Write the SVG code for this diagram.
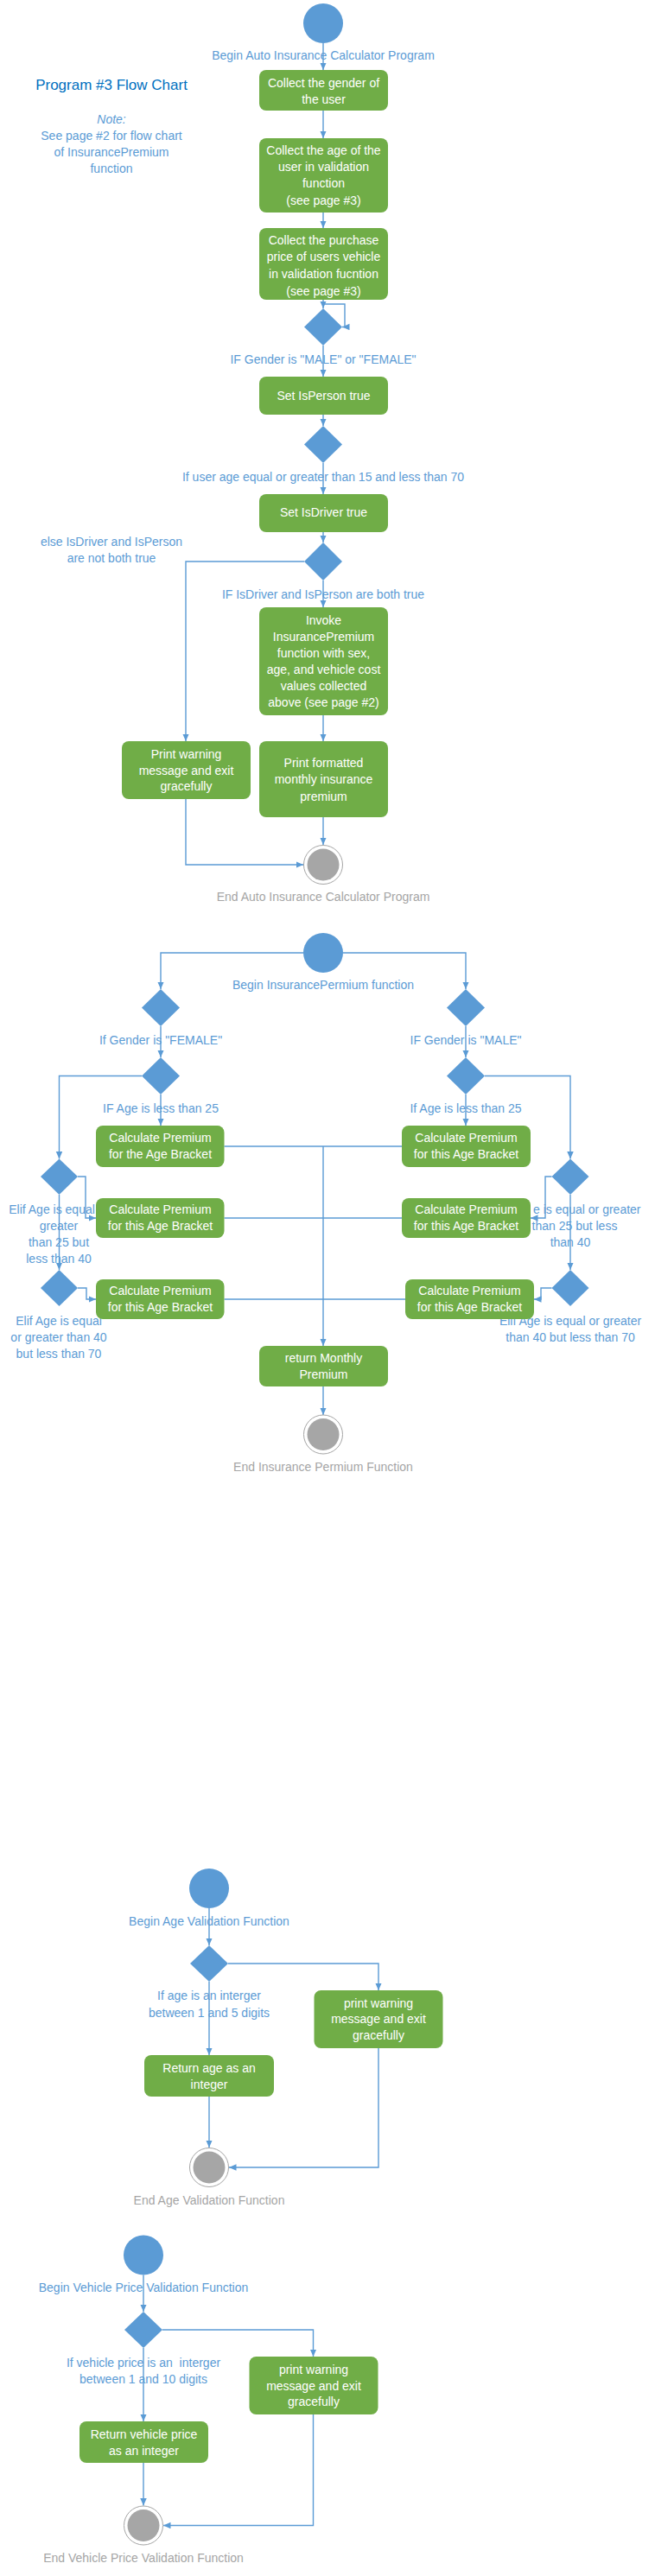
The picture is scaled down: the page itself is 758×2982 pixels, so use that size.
<svg xmlns="http://www.w3.org/2000/svg" width="758" height="2982" viewBox="0 0 758 2982">
<style>
text{font-family:"Liberation Sans",Arial,sans-serif;font-size:14px;text-anchor:middle}
.st{text-anchor:start}
.lbl{fill:#5B9BD5}
.end{fill:#A5A5A5}
.title{fill:#0070C0;font-size:17px}
.bx{fill:#70AD47}
.bt{fill:#FFFFFF}
.start{fill:#5B9BD5}
.dia{fill:#5B9BD5}
.ring{fill:#FFFFFF;stroke:#A5A5A5;stroke-width:1}
.core{fill:#A6A6A6}
.cn{fill:none;stroke:#5B9BD5;stroke-width:1.4}
.ar{marker-end:url(#ah)}
</style>
<defs>
<marker id="ah" markerUnits="userSpaceOnUse" markerWidth="9" markerHeight="8" refX="8.5" refY="3.75" orient="auto">
<path d="M0,0 L8.5,3.75 L0,7.5 z" fill="#5B9BD5"/>
</marker>
</defs>
<rect width="758" height="2982" fill="#FFFFFF"/>

<g id="connectors">
<!-- main program -->
<path class="cn ar" d="M374,50 V81"/>
<path class="cn ar" d="M374,128 V160"/>
<path class="cn ar" d="M374,246 V264"/>
<path class="cn ar" d="M374,347 V357"/>
<path class="cn ar" d="M374,352 H399 V378.5 H396"/>
<path class="cn ar" d="M374,400 V436"/>
<path class="cn ar" d="M374,480 V493"/>
<path class="cn ar" d="M374,536 V572"/>
<path class="cn ar" d="M374,616 V628"/>
<path class="cn ar" d="M352,650 H215 V858"/>
<path class="cn ar" d="M374,672 V703"/>
<path class="cn ar" d="M374,828 V858"/>
<path class="cn ar" d="M374,946 V978"/>
<path class="cn ar" d="M215,925 V1001 H351"/>
<!-- insurance premium -->
<path class="cn ar" d="M351,1103 H186 V1145"/>
<path class="cn ar" d="M397,1103 H539 V1145"/>
<path class="cn ar" d="M186,1188 V1224"/>
<path class="cn ar" d="M539,1188 V1224"/>
<path class="cn ar" d="M186,1267 V1303"/>
<path class="cn ar" d="M539,1267 V1303"/>
<path class="cn ar" d="M164,1245.5 H68.5 V1341.5"/>
<path class="cn ar" d="M561,1245.5 H660 V1341.5"/>
<path class="cn" d="M259.5,1327 H465"/>
<path class="cn" d="M259.5,1410 H465"/>
<path class="cn" d="M259.5,1504 H469"/>
<path class="cn ar" d="M374,1327 V1558"/>
<path class="cn ar" d="M90,1362 H99 V1410 H111"/>
<path class="cn ar" d="M638.5,1362 H631 V1410 H614"/>
<path class="cn ar" d="M68.5,1383 V1470"/>
<path class="cn ar" d="M660,1383 V1470"/>
<path class="cn ar" d="M90,1491 H100 V1504 H111"/>
<path class="cn ar" d="M638.5,1491 H626 V1504 H618"/>
<path class="cn ar" d="M374,1605 V1638"/>
<!-- age validation -->
<path class="cn ar" d="M242,2209 V2252"/>
<path class="cn ar" d="M264,2273 H438 V2304"/>
<path class="cn ar" d="M242,2294 V2379"/>
<path class="cn ar" d="M242,2427 V2486"/>
<path class="cn ar" d="M438,2371 V2509 H265"/>
<!-- vehicle price validation -->
<path class="cn ar" d="M166,2633.5 V2676"/>
<path class="cn ar" d="M188,2697 H362.5 V2728"/>
<path class="cn ar" d="M166,2718 V2803"/>
<path class="cn ar" d="M166,2851 V2900.5"/>
<path class="cn ar" d="M362.5,2795 V2923.5 H189"/>
</g>

<g id="labels">
<text class="title" x="129" y="104">Program #3 Flow Chart</text>
<text class="lbl" x="129" y="143" font-style="italic">Note:</text>
<text class="lbl" x="129" y="162">See page #2 for flow chart</text>
<text class="lbl" x="129" y="181">of InsurancePremium</text>
<text class="lbl" x="129" y="200">function</text>

<text class="lbl" x="374" y="69">Begin Auto Insurance Calculator Program</text>
<text class="lbl" x="374" y="421">IF Gender is "MALE" or "FEMALE"</text>
<text class="lbl" x="374" y="557">If user age equal or greater than 15 and less than 70</text>
<text class="lbl" x="129" y="632">else IsDriver and IsPerson</text>
<text class="lbl" x="129" y="651">are not both true</text>
<text class="lbl" x="374" y="693">IF IsDriver and IsPerson are both true</text>
<text class="end" x="374" y="1043">End Auto Insurance Calculator Program</text>

<text class="lbl" x="374" y="1145">Begin InsurancePermium function</text>
<text class="lbl" x="186" y="1209">If Gender is "FEMALE"</text>
<text class="lbl" x="539" y="1209">IF Gender is "MALE"</text>
<text class="lbl" x="186" y="1288">IF Age is less than 25</text>
<text class="lbl" x="539" y="1288">If Age is less than 25</text>
<text class="lbl" x="60" y="1405">Elif Age is equal</text>
<text class="lbl" x="68" y="1424">greater</text>
<text class="lbl" x="68" y="1443">than 25 but</text>
<text class="lbl" x="68" y="1462">less than 40</text>
<text class="lbl st" x="617" y="1405">e is equal or greater</text>
<text class="lbl" x="665" y="1424">than 25 but less</text>
<text class="lbl" x="660" y="1443">than 40</text>
<text class="lbl" x="68" y="1534">Elif Age is equal</text>
<text class="lbl" x="68" y="1553">or greater than 40</text>
<text class="lbl" x="68" y="1572">but less than 70</text>
<text class="lbl" x="660" y="1534">Elif Age is equal or greater</text>
<text class="lbl" x="660" y="1553">than 40 but less than 70</text>
<text class="end" x="374" y="1703">End Insurance Permium Function</text>

<text class="lbl" x="242" y="2229">Begin Age Validation Function</text>
<text class="lbl" x="242" y="2315">If age is an interger</text>
<text class="lbl" x="242" y="2335">between 1 and 5 digits</text>
<text class="end" x="242" y="2552">End Age Validation Function</text>

<text class="lbl" x="166" y="2653">Begin Vehicle Price Validation Function</text>
<text class="lbl" x="166" y="2740" xml:space="preserve">If vehicle price is an  interger</text>
<text class="lbl" x="166" y="2759">between 1 and 10 digits</text>
<text class="end" x="166" y="2966">End Vehicle Price Validation Function</text>
</g>

<!-- Main program nodes -->
<g id="main-start"><circle class="start" cx="374" cy="27" r="23"/></g>
<g id="collect-gender"><rect class="bx" x="300" y="81" width="149" height="47" rx="8"/>
<text class="bt" x="374.5" y="101">Collect the gender of</text><text class="bt" x="374.5" y="119.5">the user</text></g>
<g id="collect-age"><rect class="bx" x="300" y="160" width="149" height="86" rx="8"/>
<text class="bt" x="374.5" y="179">Collect the age of the</text><text class="bt" x="374.5" y="198">user in validation</text><text class="bt" x="374.5" y="217">function</text><text class="bt" x="374.5" y="237">(see page #3)</text></g>
<g id="collect-price"><rect class="bx" x="300" y="264" width="149" height="83" rx="8"/>
<text class="bt" x="374.5" y="283">Collect the purchase</text><text class="bt" x="374.5" y="302">price of users vehicle</text><text class="bt" x="374.5" y="322">in validation fucntion</text><text class="bt" x="374.5" y="342">(see page #3)</text></g>
<g id="dec-gender"><polygon class="dia" points="374,357 396,378.5 374,400 352,378.5"/></g>
<g id="set-person"><rect class="bx" x="300" y="436" width="149" height="44" rx="8"/>
<text class="bt" x="374.5" y="463">Set IsPerson true</text></g>
<g id="dec-age"><polygon class="dia" points="374,493 396,514.5 374,536 352,514.5"/></g>
<g id="set-driver"><rect class="bx" x="300" y="572" width="149" height="44" rx="8"/>
<text class="bt" x="374.5" y="598">Set IsDriver true</text></g>
<g id="dec-both"><polygon class="dia" points="374,628 396,650 374,672 352,650"/></g>
<g id="invoke"><rect class="bx" x="300" y="703" width="149" height="125" rx="8"/>
<text class="bt" x="374.5" y="723">Invoke</text><text class="bt" x="374.5" y="742">InsurancePremium</text><text class="bt" x="374.5" y="761">function with sex,</text><text class="bt" x="374.5" y="780">age, and vehicle cost</text><text class="bt" x="374.5" y="799">values collected</text><text class="bt" x="374.5" y="818">above (see page #2)</text></g>
<g id="print-premium"><rect class="bx" x="300" y="858" width="149" height="88" rx="8"/>
<text class="bt" x="374.5" y="888">Print formatted</text><text class="bt" x="374.5" y="907">monthly insurance</text><text class="bt" x="374.5" y="927">premium</text></g>
<g id="print-warning"><rect class="bx" x="141" y="858" width="149" height="67" rx="8"/>
<text class="bt" x="215.5" y="878">Print warning</text><text class="bt" x="215.5" y="897">message and exit</text><text class="bt" x="215.5" y="915">gracefully</text></g>
<g id="main-end"><circle class="ring" cx="374" cy="1001" r="22.5"/><circle class="core" cx="374" cy="1001" r="18.5"/></g>

<!-- Insurance premium nodes -->
<g id="ip-start"><circle class="start" cx="374" cy="1103" r="23"/></g>
<g id="ip-dec-female"><polygon class="dia" points="186,1145 208,1166.5 186,1188 164,1166.5"/></g>
<g id="ip-dec-male"><polygon class="dia" points="539,1145 561,1166.5 539,1188 517,1166.5"/></g>
<g id="ip-dec-f-age25"><polygon class="dia" points="186,1224 208,1245.5 186,1267 164,1245.5"/></g>
<g id="ip-dec-m-age25"><polygon class="dia" points="539,1224 561,1245.5 539,1267 517,1245.5"/></g>
<g id="ip-dec-f-age40"><polygon class="dia" points="68.5,1341.5 90,1362 68.5,1383 47,1362"/></g>
<g id="ip-dec-m-age40"><polygon class="dia" points="660,1341.5 681.5,1362 660,1383 638.5,1362"/></g>
<g id="ip-dec-f-age70"><polygon class="dia" points="68.5,1470 90,1491 68.5,1512 47,1491"/></g>
<g id="ip-dec-m-age70"><polygon class="dia" points="660,1470 681.5,1491 660,1512 638.5,1491"/></g>
<g id="ip-f-calc1"><rect class="bx" x="111" y="1303" width="148.5" height="48" rx="8"/>
<text class="bt" x="185.5" y="1322">Calculate Premium</text><text class="bt" x="185.5" y="1341">for the Age Bracket</text></g>
<g id="ip-m-calc1"><rect class="bx" x="465" y="1303" width="149" height="48" rx="8"/>
<text class="bt" x="539.5" y="1322">Calculate Premium</text><text class="bt" x="539.5" y="1341">for this Age Bracket</text></g>
<g id="ip-f-calc2"><rect class="bx" x="111" y="1387" width="148.5" height="46" rx="8"/>
<text class="bt" x="185.5" y="1405">Calculate Premium</text><text class="bt" x="185.5" y="1424">for this Age Bracket</text></g>
<g id="ip-m-calc2"><rect class="bx" x="465" y="1387" width="149" height="46" rx="8"/>
<text class="bt" x="539.5" y="1405">Calculate Premium</text><text class="bt" x="539.5" y="1424">for this Age Bracket</text></g>
<g id="ip-f-calc3"><rect class="bx" x="111" y="1481" width="148.5" height="46" rx="8"/>
<text class="bt" x="185.5" y="1499">Calculate Premium</text><text class="bt" x="185.5" y="1518">for this Age Bracket</text></g>
<g id="ip-m-calc3"><rect class="bx" x="469" y="1481" width="149" height="46" rx="8"/>
<text class="bt" x="543.5" y="1499">Calculate Premium</text><text class="bt" x="543.5" y="1518">for this Age Bracket</text></g>
<g id="ip-return"><rect class="bx" x="300" y="1558" width="149" height="47" rx="8"/>
<text class="bt" x="374.5" y="1577">return Monthly</text><text class="bt" x="374.5" y="1596">Premium</text></g>
<g id="ip-end"><circle class="ring" cx="374" cy="1660.5" r="22.5"/><circle class="core" cx="374" cy="1660.5" r="18.5"/></g>

<!-- Age validation nodes -->
<g id="av-start"><circle class="start" cx="242" cy="2186" r="23"/></g>
<g id="av-dec"><polygon class="dia" points="242,2252 264,2273 242,2294 220,2273"/></g>
<g id="av-return"><rect class="bx" x="167" y="2379" width="150" height="48" rx="8"/>
<text class="bt" x="242" y="2399">Return age as an</text><text class="bt" x="242" y="2418">integer</text></g>
<g id="av-warning"><rect class="bx" x="363.5" y="2304" width="149" height="67" rx="8"/>
<text class="bt" x="438" y="2324">print warning</text><text class="bt" x="438" y="2342">message and exit</text><text class="bt" x="438" y="2361">gracefully</text></g>
<g id="av-end"><circle class="ring" cx="242" cy="2509" r="22.5"/><circle class="core" cx="242" cy="2509" r="18.5"/></g>

<!-- Vehicle price validation nodes -->
<g id="vp-start"><circle class="start" cx="166" cy="2610.5" r="23"/></g>
<g id="vp-dec"><polygon class="dia" points="166,2676 188,2697 166,2718 144,2697"/></g>
<g id="vp-return"><rect class="bx" x="92" y="2803" width="149" height="48" rx="8"/>
<text class="bt" x="166.5" y="2823">Return vehicle price</text><text class="bt" x="166.5" y="2842">as an integer</text></g>
<g id="vp-warning"><rect class="bx" x="288.5" y="2728" width="149" height="67" rx="8"/>
<text class="bt" x="363" y="2748">print warning</text><text class="bt" x="363" y="2767">message and exit</text><text class="bt" x="363" y="2785">gracefully</text></g>
<g id="vp-end"><circle class="ring" cx="166" cy="2923.5" r="22.5"/><circle class="core" cx="166" cy="2923.5" r="18.5"/></g>
</svg>
